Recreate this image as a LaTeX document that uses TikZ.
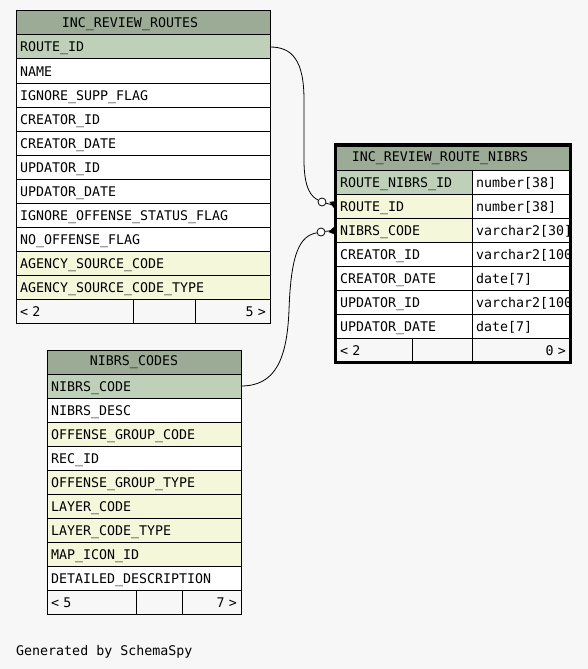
\documentclass[tikz,border=0pt]{standalone}
\usepackage{fontspec}
\newfontfamily\schemafont{DejaVu Sans Mono}
\definecolor{bgcol}{HTML}{F7F7F7}
\definecolor{headcol}{HTML}{9BAB96}
\definecolor{pkcol}{HTML}{BED1B8}
\definecolor{fkcol}{HTML}{F4F7DA}
\tikzset{
  cell/.style={draw=black, line width=1pt, fill=white, anchor=north west,
    minimum height=24pt, inner ysep=0pt, inner xsep=4pt, outer sep=0pt,
    text height=10pt, text depth=0pt, align=left},
  headcell/.style={cell, fill=headcol},
  footcell/.style={cell, fill=bgcol},
  oend/.style={circle, draw=black, fill=white, line width=0.8pt, inner sep=0pt, minimum size=8pt},
  link/.style={draw=black, line width=0.8pt}
}
\begin{document}
\begin{tikzpicture}[x=1pt, y=-1pt, every node/.style={font=\schemafont\fontsize{13.3}{15}\selectfont}]
    \fill[bgcol] (0,0) rectangle (588,669);

    % table: INC_REVIEW_ROUTES
    \node[headcell, text width=246pt] (routes-h) at (16,11) {};
    \node (routes-t) at ([xshift=-13pt, yshift=-1pt]routes-h.center) {INC\_REVIEW\_ROUTES};
    \foreach \txt/\col [count=\i] in {ROUTE\_ID/pkcol, NAME/white, IGNORE\_SUPP\_FLAG/white,
        CREATOR\_ID/white, CREATOR\_DATE/white, UPDATOR\_ID/white, UPDATOR\_DATE/white,
        IGNORE\_OFFENSE\_STATUS\_FLAG/white, NO\_OFFENSE\_FLAG/white,
        AGENCY\_SOURCE\_CODE/fkcol, AGENCY\_SOURCE\_CODE\_TYPE/fkcol}
        \node[cell, text width=246pt, fill=\col] (routes-\i) at (16,{35+24*(\i-1)}) {\txt};
    \node[footcell, text width=109pt] (routes-f1) at (16,299) {< 2};
    \node[footcell, text width=54pt] (routes-f2) at (routes-f1.north east) {};
    \node[footcell, text width=67pt, align=right] (routes-f3) at (routes-f2.north east) {5 >};

    % table: INC_REVIEW_ROUTE_NIBRS
    \begin{scope}
        \clip (336,145) rectangle (570,362);
        \node[headcell, text width=226pt] (rnibrs-h) at (336,146) {};
        \node (rnibrs-t) at ([xshift=-13pt]rnibrs-h.center) {INC\_REVIEW\_ROUTE\_NIBRS};
        \foreach \txt/\col/\typ [count=\i] in {ROUTE\_NIBRS\_ID/pkcol/number[38],
            ROUTE\_ID/fkcol/number[38], NIBRS\_CODE/fkcol/varchar2[30],
            CREATOR\_ID/white/varchar2[100], CREATOR\_DATE/white/date[7],
            UPDATOR\_ID/white/varchar2[100], UPDATOR\_DATE/white/date[7]} {
            \node[cell, text width=128pt, fill=\col] (rnibrs-\i) at (336,{170+24*(\i-1)}) {\txt};
            \node[cell, text width=90pt] (rnibrs-t\i) at (rnibrs-\i.north east) {\typ};
        }
        \node[footcell, text width=68pt] (rnibrs-f1) at (336,338) {< 2};
        \node[footcell, text width=52pt] (rnibrs-f2) at (rnibrs-f1.north east) {};
        \node[footcell, text width=90pt, align=right] (rnibrs-f3) at (rnibrs-f2.north east) {0 >};
    \end{scope}
    \draw[line width=3pt] (335.5,144.5) rectangle (570.5,362);

    % table: NIBRS_CODES
    \node[headcell, text width=186pt] (codes-h) at (47,350) {};
    \node (codes-t) at ([xshift=-10pt]codes-h.center) {NIBRS\_CODES};
    \foreach \txt/\col [count=\i] in {NIBRS\_CODE/pkcol, NIBRS\_DESC/white,
        OFFENSE\_GROUP\_CODE/fkcol, REC\_ID/white, OFFENSE\_GROUP\_TYPE/fkcol,
        LAYER\_CODE/fkcol, LAYER\_CODE\_TYPE/fkcol, MAP\_ICON\_ID/fkcol,
        DETAILED\_DESCRIPTION/white}
        \node[cell, text width=186pt, fill=\col] (codes-\i) at (47,{374+24*(\i-1)}) {\txt};
    \node[footcell, text width=81pt] (codes-f1) at (47,590) {< 5};
    \node[footcell, text width=38pt] (codes-f2) at (codes-f1.north east) {};
    \node[footcell, text width=51pt, align=right] (codes-f3) at (codes-f2.north east) {7 >};

    % relationships
    \node[oend] (o1) at (322,202) {};
    \node[oend] (o2) at (321,232) {};
    \draw[link] (routes-1.east) .. controls (292,47) and (304,60) .. (304,100)
        -- (304,160) .. controls (304,190) and (312,197) .. (o1);
    \draw[link] (codes-1.east) .. controls (275,386) and (287,360) .. (289,310)
        .. controls (291,252) and (300,236) .. (o2);
    \draw[link] (o1) -- (rnibrs-2.west);
    \draw[link] (o2) -- (rnibrs-3.west);
    \fill ([xshift=3pt]o1.east) -- ([yshift=5pt]rnibrs-2.west) -- ([yshift=-5pt]rnibrs-2.west) -- cycle;
    \fill ([xshift=3pt]o2.east) -- ([yshift=5pt]rnibrs-3.west) -- ([yshift=-5pt]rnibrs-3.west) -- cycle;

    \node[anchor=base west, inner sep=0pt] (credit) at (16,655) {Generated by SchemaSpy};
\end{tikzpicture}
\end{document}
